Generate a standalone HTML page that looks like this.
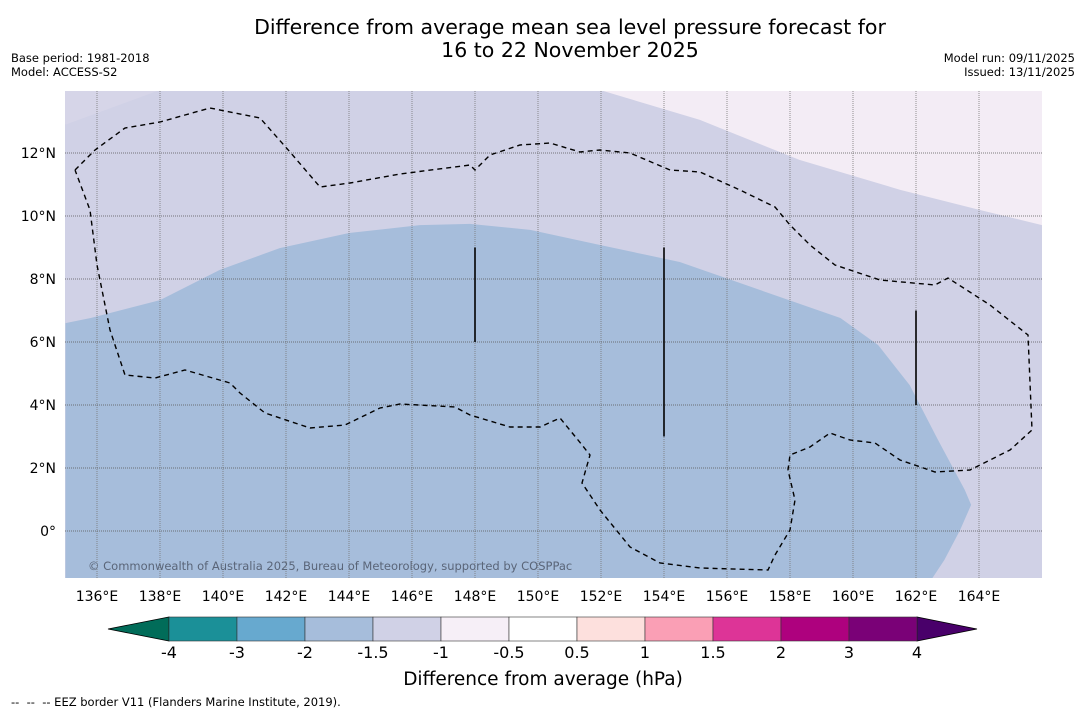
<!DOCTYPE html>
<html><head><meta charset="utf-8"><style>
body{margin:0;background:#fff;width:1085px;height:713px;overflow:hidden;font-family:"Liberation Sans","DejaVu Sans",sans-serif}
svg{position:absolute;left:0;top:0}
</style></head><body>
<svg width="1085" height="713" font-family="DejaVu Sans, Liberation Sans, sans-serif">
<text x="570" y="34" font-size="20.5" text-anchor="middle">Difference from average mean sea level pressure forecast for</text>
<text x="570" y="57" font-size="20.5" text-anchor="middle">16 to 22 November 2025</text>
<text x="11" y="62" font-size="11.5">Base period: 1981-2018</text>
<text x="11" y="76" font-size="11.5">Model: ACCESS-S2</text>
<text x="1075" y="62" font-size="11.5" text-anchor="end">Model run: 09/11/2025</text>
<text x="1075" y="76" font-size="11.5" text-anchor="end">Issued: 13/11/2025</text>
<defs><clipPath id="mc"><rect x="65" y="91" width="977" height="487"/></clipPath></defs>
<g id="map" clip-path="url(#mc)">
<rect x="65" y="91" width="977" height="487" fill="#d0d1e6"/>
</g>
<g id="axes"></g>
<g id="cbar"></g>
<text x="543" y="685" font-size="18.5" text-anchor="middle">Difference from average (hPa)</text>
<text x="11" y="706" font-size="11.5" xml:space="preserve">--  --  -- EEZ border V11 (Flanders Marine Institute, 2019).</text>
</svg>
<script>
const NS='http://www.w3.org/2000/svg';
const lonTicks=[136,138,140,142,144,146,148,150,152,154,156,158,160,162,164];
const latTicks=[0,2,4,6,8,10,12];
// -1.5 to -2 hPa region boundary (lon,lat)
const band2Lon=[135,135.8,138,139.9,141.8,144.0,146.25,147.84,149.75,151.97,154.5,157.05,159.6,160.8,161.8,162.7,163.55,163.75,163.4,162.9,162.45];
const band2Lat=[6.6,6.76,7.33,8.29,8.98,9.46,9.71,9.75,9.56,9.08,8.54,7.65,6.76,5.9,4.63,2.89,1.3,0.83,0.03,-0.92,-1.6];
// -0.5 to -1 hPa region (top right)
const band1Lon=[151.97,155.14,158.3,161.5,164.03,166];
const band1Lat=[14,13.05,11.78,10.83,10.19,9.71];
const band1bLon=[135,138];
const band1bLat=[12.9,14];
const eezX=[75,95,125,160,210,260,290,320,350,400,470,475,490,520,550,580,600,630,670,700,740,775,790,810,835,880,935,948,990,1028,1032,1010,970,935,900,875,850,830,810,790,788,795,790,775,768,700,660,630,600,582,590,578,560,540,510,470,455,400,380,345,310,265,240,230,185,155,125,110,97,90,75];
const eezY=[170,150,128,122,108,118,152,187,183,174,165,170,155,145,143,152,150,153,170,172,190,207,225,245,265,280,285,278,305,335,430,450,470,472,460,443,440,433,447,455,470,500,530,555,570,568,563,547,510,483,455,440,418,427,427,415,407,404,408,425,428,413,393,383,370,378,375,330,265,210,170];
const cbLabels=['-4','-3','-2','-1.5','-1','-0.5','0.5','1','1.5','2','3','4'];
const cbColors=['#1b9098','#67a9cf','#a6bddb','#d0d1e6','#f6eff7','#ffffff','#fde0dd','#fa9fb5','#dd3497','#ae017e','#7a0177'];
const X=lon=>65.5+(lon-135)*31.5, Y=lat=>531-lat*31.5;
function mk(t,a,p){const e=document.createElementNS(NS,t);for(const k in a)e.setAttribute(k,a[k]);(p||document.getElementById('map')).appendChild(e);return e;}
const map=document.getElementById('map');
let d='M'+X(135)+','+Y(-2)+' '+band2Lon.map((l,i)=>'L'+X(l)+','+Y(band2Lat[i])).join(' ')+'Z';
let p=mk('path',{d:d,fill:'#a6bddb','stroke-linejoin':'round'});


d='M'+X(166)+','+Y(15)+' L'+X(band1Lon[0])+','+Y(15)+' '+band1Lon.map((l,i)=>'L'+X(l)+','+Y(band1Lat[i])).join(' ')+' L'+X(167)+','+Y(9.5)+'Z';
p=mk('path',{d:d,fill:'#f3ecf5'});


d='M'+X(134)+','+Y(15)+' '+band1bLon.map((l,i)=>'L'+X(l)+','+Y(band1bLat[i])).join(' ')+'Z';
p=mk('path',{d:d,fill:'#d6d5e8'});


const ax=document.getElementById('axes');
lonTicks.forEach(l=>{
 const g=mk('line',{x1:X(l),x2:X(l),y1:91,y2:578,stroke:'#777','stroke-width':0.8,'stroke-dasharray':'1 1'},map);
 
 
 const t=mk('text',{x:X(l),y:601,'font-size':14,'text-anchor':'middle'},ax);t.textContent=l+'°E';
 
 
});
latTicks.forEach(l=>{
 const g=mk('line',{x1:65,x2:1042,y1:Y(l),y2:Y(l),stroke:'#555','stroke-width':0.8,'stroke-dasharray':'1 1'},map);
 
 
 const t=mk('text',{x:56,y:Y(l)+5,'font-size':14,'text-anchor':'end'},ax);t.textContent=l===0?'0°':l+'°N';
 
 
});
p=mk('path',{d:'M'+eezX.map((x,i)=>x+','+eezY[i]).join(' L'),fill:'none',stroke:'#000','stroke-width':1.4,'stroke-dasharray':'5 4'});


[[148,9,6],[154,9,3],[162,7,4]].forEach(v=>{
 const l=mk('line',{x1:X(v[0]),x2:X(v[0]),y1:Y(v[1]),y2:Y(v[2]),stroke:'#000','stroke-width':1.6});
 
 
});
const at=mk('text',{x:88,y:570,'font-size':11.5,fill:'#5a6578'});at.textContent='© Commonwealth of Australia 2025, Bureau of Meteorology, supported by COSPPac';


const cb=document.getElementById('cbar');
const segW=68,x0=169,cy=617,ch=24;
let tri=mk('polygon',{points:`108,${cy+ch/2} ${x0},${cy} ${x0},${cy+ch}`,fill:'#016c59',stroke:'#000','stroke-width':0.8},cb);


tri=mk('polygon',{points:`977,${cy+ch/2} ${x0+11*segW},${cy} ${x0+11*segW},${cy+ch}`,fill:'#49006a',stroke:'#000','stroke-width':0.8},cb);


cbColors.forEach((c,i)=>{
 const r=mk('rect',{x:x0+i*segW,y:cy,width:segW,height:ch,fill:c,stroke:'#333','stroke-width':0.6},cb);
 
 
});
cbLabels.forEach((s,i)=>{
 const t=mk('text',{x:x0+i*segW,y:658,'font-size':16,'text-anchor':'middle'},cb);t.textContent=s;
 
 
});
</script>
</body></html>
